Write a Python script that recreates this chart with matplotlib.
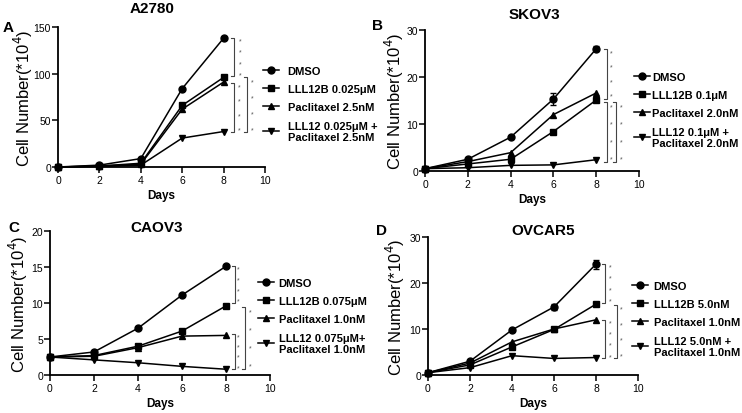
import numpy as np
import matplotlib
matplotlib.use("Agg")
import matplotlib.pyplot as plt

plt.rcParams['font.family'] = ['Liberation Sans', 'DejaVu Sans']

# ---- data ----
days = [0, 2, 4, 6, 8]

a_dmso = [0, 2, 9, 84, 138]
a_lll = [0, 1, 4, 66, 96]
a_pac = [0, 1, 3, 62, 91]
a_combo = [0, 0.5, 2, 31, 38]
a_labels = ["DMSO", "LLL12B 0.025μM", "Paclitaxel 2.5nM", "LLL12 0.025μM +\nPaclitaxel 2.5nM"]

b_dmso = [0.5, 2.5, 7.2, 15.3, 26.0]
b_lll = [0.5, 1.5, 2.5, 8.4, 15.1]
b_pac = [0.5, 2.0, 3.9, 12.0, 16.6]
b_combo = [0.5, 0.7, 1.2, 1.3, 2.4]
b_dmso_err = [0, 0, 0.2, 1.3, 0.5]
b_lll_err = [0, 0, 0, 0.3, 0.5]
b_labels = ["DMSO", "LLL12B 0.1μM", "Paclitaxel 2.0nM", "LLL12 0.1μM +\nPaclitaxel 2.0nM"]

c_dmso = [2.5, 3.2, 6.5, 11.1, 15.1]
c_lll = [2.5, 2.7, 4.0, 6.1, 9.6]
c_pac = [2.5, 2.6, 3.8, 5.4, 5.5]
c_combo = [2.5, 2.1, 1.7, 1.2, 0.8]
c_labels = ["DMSO", "LLL12B 0.075μM", "Paclitaxel 1.0nM", "LLL12 0.075μM+\nPaclitaxel 1.0nM"]

d_dmso = [0.5, 3.0, 9.8, 14.8, 24.1]
d_lll = [0.5, 2.2, 6.1, 9.9, 15.4]
d_pac = [0.5, 2.6, 7.2, 10.0, 12.0]
d_combo = [0.5, 1.6, 4.2, 3.6, 3.8]
d_dmso_err = [0, 0.2, 0.3, 0.7, 1.0]
d_labels = ["DMSO", "LLL12B 5.0nM", "Paclitaxel 1.0nM", "LLL12 5.0nM +\nPaclitaxel 1.0nM"]

markers = ['o', 's', '^', 'v']

W, H = 742, 414
fig = plt.figure(figsize=(W / 100, H / 100), dpi=100)


def px_axes(l, r, b, t):
    # axes from pixel edges
    return fig.add_axes([l / W, 1 - b / H, (r - l) / W, (b - t) / H])


def bracket(ax, x, top, bot, sx, tick=0.15):
    ax.plot([x - tick, x, x, x - tick], [top, top, bot, bot], color='#444444',
            lw=0.8, clip_on=False)
    for yy in np.linspace(top - 0.08 * (top - bot), bot + 0.05 * (top - bot), 4):
        ax.text(sx, yy, '*', fontsize=5, color='#555555', ha='center', va='center',
                clip_on=False)


def panel(ax, series, errs, labels, ymax, yticks, ylab_x, leg_x, leg_y, tpad):
    for i, s in enumerate(series):
        e = errs[i]
        if e is not None:
            ax.errorbar(days, s, yerr=e, fmt='none', ecolor='black', capsize=2.5,
                        elinewidth=0.9, clip_on=False, zorder=2)
        ax.plot(days, s, color='black', lw=1.1, marker=markers[i], ms=5,
                label=labels[i], clip_on=False, zorder=3)
    ax.set_xlim(0, 10)
    ax.set_ylim(0, ymax)
    ax.set_xticks([0, 2, 4, 6, 8, 10])
    ax.set_yticks(yticks)
    for sp in ['top', 'right']:
        ax.spines[sp].set_visible(False)
    for sp in ['left', 'bottom']:
        ax.spines[sp].set_linewidth(1.3)
    ax.tick_params(direction='out', length=4, width=1.1, labelsize=7.5, pad=1.5)
    ax.tick_params(axis='y', pad=1)
    ax.set_xlabel('Days', fontsize=8.5, fontweight='bold', labelpad=3)
    ax.set_ylabel('Cell Number(*10$^4$)', fontsize=12)
    # right edge of the rotated label, in pixels -> axes fraction
    bb = ax.get_position()
    ax.yaxis.set_label_coords((ylab_x / W - bb.x0) / bb.width, 0.5)
    ax.legend(loc='upper left', bbox_to_anchor=(leg_x / W, 1 - leg_y / H),
              bbox_transform=fig.transFigure, frameon=False, borderpad=0,
              handlelength=1.5, handletextpad=tpad, labelspacing=0.75,
              prop={'size': 8, 'weight': 'bold'})


# A
axA = px_axes(58, 265, 168, 28)
panel(axA, [a_dmso, a_lll, a_pac, a_combo], [None] * 4, a_labels, 150, [0, 50, 100, 150],
      35, 257, 61, 0.75)
axA.text(0.454, 1.135, 'A2780', transform=axA.transAxes, ha='center', va='center',
         fontsize=11, fontweight='bold')
bracket(axA, 8.5, 138, 97, 8.8)
bracket(axA, 8.5, 90, 37, 8.75)
bracket(axA, 9.13, 96, 37, 9.37)

# B
axB = px_axes(425, 639, 172, 31)
panel(axB, [b_dmso, b_lll, b_pac, b_combo], [b_dmso_err, b_lll_err, None, None], b_labels,
      30, [0, 10, 20, 30], 406, 628, 67, 0.15)
axB.text(0.51, 1.11, 'SKOV3', transform=axB.transAxes, ha='center', va='center',
         fontsize=11, fontweight='bold')
bracket(axB, 8.5, 26, 15.4, 8.7)
bracket(axB, 8.5, 14.6, 2.0, 8.7)
bracket(axB, 8.93, 14.7, 1.9, 9.15)

# C
axC = px_axes(50, 270, 376, 232)
panel(axC, [c_dmso, c_lll, c_pac, c_combo], [None] * 4, c_labels, 20, [0, 5, 10, 15, 20],
      30, 252, 273, 0.4)
axC.text(0.486, 1.03, 'CAOV3', transform=axC.transAxes, ha='center', va='center',
         fontsize=11, fontweight='bold')
bracket(axC, 8.4, 15.1, 10.0, 8.55)
bracket(axC, 8.4, 5.7, 0.8, 8.55)
bracket(axC, 8.86, 9.5, 0.9, 9.1)

# D
axD = px_axes(428, 638, 376, 238)
panel(axD, [d_dmso, d_lll, d_pac, d_combo], [d_dmso_err, None, None, None], d_labels,
      30, [0, 10, 20, 30], 407, 626, 276, 0.48)
axD.text(0.55, 1.05, 'OVCAR5', transform=axD.transAxes, ha='center', va='center',
         fontsize=11, fontweight='bold')
bracket(axD, 8.43, 24.2, 15.6, 8.67)
bracket(axD, 8.43, 12.0, 3.6, 8.67)
bracket(axD, 9.0, 15.3, 3.6, 9.2)

# panel letters
for lab, x, y in [('A', 3, 28), ('B', 372, 26), ('C', 8, 228), ('D', 376, 231)]:
    fig.text(x / W, 1 - y / H, lab, fontsize=11, fontweight='bold', va='center', ha='left')

fig.savefig('out.png', dpi=100)
